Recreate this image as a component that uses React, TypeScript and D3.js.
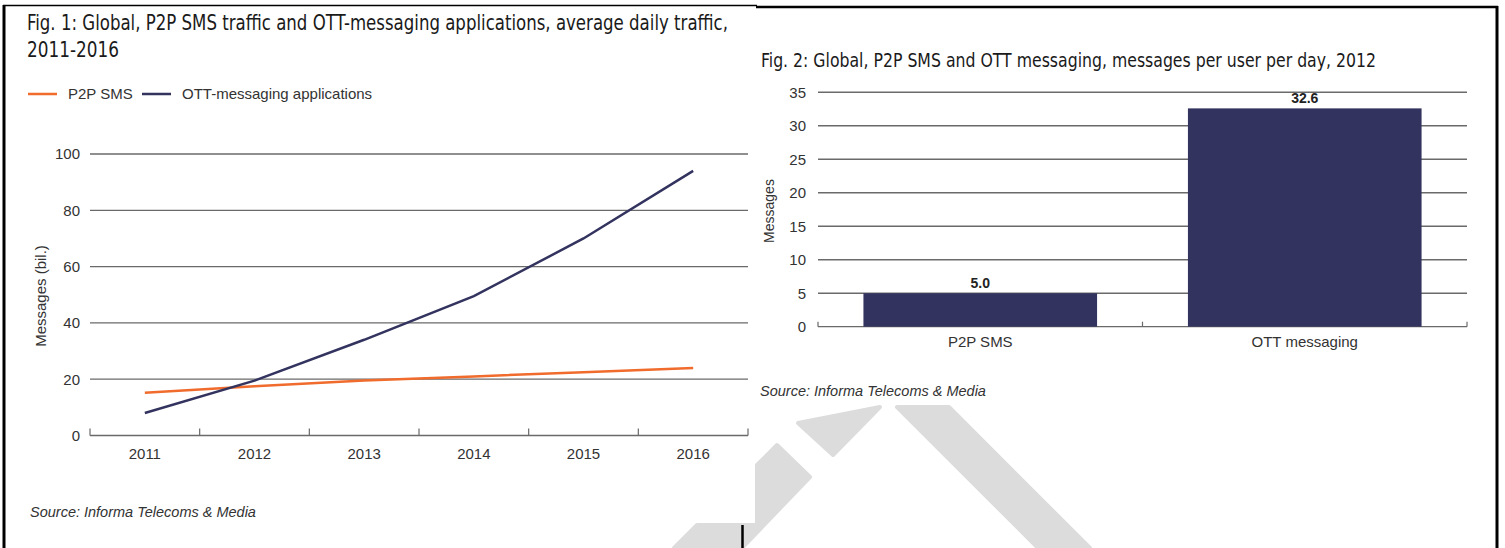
import React, { useRef, useEffect } from 'react';
import * as d3 from 'd3';

// Fig. 1 data
const years = ['2011', '2012', '2013', '2014', '2015', '2016'];
const smsTraffic = [15.2, 17.5, 19.5, 21, 22.5, 24];
const ottTraffic = [8, 19.5, 34, 49.5, 70, 94];
const trafficTicks = [0, 20, 40, 60, 80, 100];
const seriesNames = ['P2P SMS', 'OTT-messaging applications'];

// Fig. 2 data
const userCategories = ['P2P SMS', 'OTT messaging'];
const perUserValues = [5.0, 32.6];
const perUserTicks = [0, 5, 10, 15, 20, 25, 30, 35];

const W = 1505;
const H = 548;
const ORANGE = '#f06b2c';
const NAVY = '#33335f';
const TITLE_FONT = "'Liberation Sans Narrow', 'DejaVu Sans Condensed', 'Noto Sans', sans-serif";
const FONT = "'Liberation Sans', Arial, sans-serif";

function App() {
  const svgRef = useRef(null);

  useEffect(() => {
    const svg = d3.select(svgRef.current);
    svg.selectAll('*').remove();

    svg.append('rect').attr('width', W).attr('height', H).attr('fill', '#fff');

    // faint logo watermark behind the panels
    const wm = [
      [[798, 423], [880, 407], [833, 455]],
      [[777, 445], [810, 477], [742, 548], [674, 548], [697, 525], [757, 525], [757, 465]],
      [[897, 407], [949, 407], [1090, 548], [1038, 548]],
    ];
    svg.append('g').selectAll('polygon').data(wm).enter().append('polygon')
      .attr('points', d => d.map(p => p.join(',')).join(' '))
      .attr('fill', '#dcdcdc')
      .attr('stroke', '#dcdcdc')
      .attr('stroke-width', 4)
      .attr('stroke-linejoin', 'round');

    // frame
    const frame = svg.append('g').attr('stroke', '#000');
    frame.append('line').attr('x1', 4).attr('x2', 4).attr('y1', 5).attr('y2', H).attr('stroke-width', 3);
    frame.append('line').attr('x1', 3).attr('x2', 757).attr('y1', 5.5).attr('y2', 5.5).attr('stroke-width', 1.5);
    frame.append('line').attr('x1', 756).attr('x2', 1498).attr('y1', 7).attr('y2', 7).attr('stroke-width', 2.5);
    frame.append('line').attr('x1', 1497).attr('x2', 1497).attr('y1', 6).attr('y2', H).attr('stroke-width', 3);
    frame.append('line').attr('x1', 742.5).attr('x2', 742.5).attr('y1', 525).attr('y2', H).attr('stroke-width', 2.5);

    // ---------- Fig. 1 ----------
    const g1 = svg.append('g');
    g1.append('text').attr('x', 27).attr('y', 30)
      .attr('font-family', TITLE_FONT).attr('font-size', 21).attr('fill', '#1a1a1a')
      .attr('textLength', 701).attr('lengthAdjust', 'spacingAndGlyphs')
      .text('Fig. 1: Global, P2P SMS traffic and OTT-messaging applications, average daily traffic,');
    g1.append('text').attr('x', 27).attr('y', 57)
      .attr('font-family', TITLE_FONT).attr('font-size', 21).attr('fill', '#1a1a1a')
      .attr('textLength', 92).attr('lengthAdjust', 'spacingAndGlyphs')
      .text('2011-2016');

    const legend = g1.append('g').attr('font-family', FONT).attr('font-size', 15).attr('fill', '#333');
    const legendX = [28, 142];
    seriesNames.forEach((name, i) => {
      legend.append('line')
        .attr('x1', legendX[i]).attr('x2', legendX[i] + 29)
        .attr('y1', 94).attr('y2', 94)
        .attr('stroke', i === 0 ? ORANGE : NAVY).attr('stroke-width', 2.5);
      legend.append('text').attr('x', legendX[i] + 40).attr('y', 99).text(name);
    });

    const x = d3.scaleBand().domain(years).range([90, 748]).padding(0);
    const y = d3.scaleLinear().domain([0, 100]).range([435.5, 154]);

    g1.append('g').selectAll('line').data(trafficTicks.slice(1)).enter().append('line')
      .attr('x1', 90).attr('x2', 748)
      .attr('y1', d => y(d)).attr('y2', d => y(d))
      .attr('stroke', '#6a6a6a').attr('stroke-width', 1.3);

    // x axis: baseline + boundary ticks pointing up
    g1.append('line').attr('x1', 90).attr('x2', 748).attr('y1', y(0)).attr('y2', y(0))
      .attr('stroke', '#6a6a6a').attr('stroke-width', 1.3);
    g1.append('g').selectAll('line').data(d3.range(years.length + 1)).enter().append('line')
      .attr('x1', i => x.range()[0] + i * x.step()).attr('x2', i => x.range()[0] + i * x.step())
      .attr('y1', y(0)).attr('y2', y(0) - 7)
      .attr('stroke', '#6a6a6a').attr('stroke-width', 1.2);

    const xAxis = g1.append('g').attr('transform', `translate(0,${y(0)})`)
      .call(d3.axisBottom(x).tickSize(0).tickPadding(13));
    xAxis.select('.domain').remove();
    xAxis.selectAll('text').attr('font-family', FONT).attr('font-size', 15).attr('fill', '#333');

    const yAxis = g1.append('g').attr('transform', 'translate(90,0)')
      .call(d3.axisLeft(y).tickValues(trafficTicks).tickSize(0).tickPadding(10));
    yAxis.select('.domain').remove();
    yAxis.selectAll('text').attr('font-family', FONT).attr('font-size', 15).attr('fill', '#333');

    g1.append('text')
      .attr('transform', 'translate(46,296) rotate(-90)')
      .attr('text-anchor', 'middle')
      .attr('font-family', FONT).attr('font-size', 15).attr('fill', '#333')
      .text('Messages (bil.)');

    const line = d3.line()
      .x((d, i) => x(years[i]) + x.bandwidth() / 2)
      .y(d => y(d));

    g1.append('path').datum(smsTraffic)
      .attr('fill', 'none').attr('stroke', ORANGE).attr('stroke-width', 2.5).attr('d', line);
    g1.append('path').datum(ottTraffic)
      .attr('fill', 'none').attr('stroke', NAVY).attr('stroke-width', 2.5).attr('d', line);

    g1.append('text').attr('x', 30).attr('y', 517)
      .attr('font-family', FONT).attr('font-size', 14.5).attr('font-style', 'italic').attr('fill', '#333')
      .text('Source: Informa Telecoms & Media');

    // ---------- Fig. 2 ----------
    const g2 = svg.append('g');
    g2.append('text').attr('x', 761).attr('y', 67)
      .attr('font-family', TITLE_FONT).attr('font-size', 19).attr('fill', '#1a1a1a')
      .attr('textLength', 615).attr('lengthAdjust', 'spacingAndGlyphs')
      .text('Fig. 2: Global, P2P SMS and OTT messaging, messages per user per day, 2012');

    const x2 = d3.scaleBand().domain(userCategories).range([818, 1467])
      .paddingInner(0.28).paddingOuter(0.14);
    const y2 = d3.scaleLinear().domain([0, 35]).range([326.7, 92.3]);

    g2.append('g').selectAll('line').data(perUserTicks.slice(1)).enter().append('line')
      .attr('x1', 818).attr('x2', 1467)
      .attr('y1', d => y2(d)).attr('y2', d => y2(d))
      .attr('stroke', '#6a6a6a').attr('stroke-width', 1.6);

    g2.append('line').attr('x1', 818).attr('x2', 1467).attr('y1', y2(0)).attr('y2', y2(0))
      .attr('stroke', '#6a6a6a').attr('stroke-width', 1.3);
    g2.append('g').selectAll('line').data(d3.range(userCategories.length + 1)).enter().append('line')
      .attr('x1', i => 818 + i * (1467 - 818) / userCategories.length)
      .attr('x2', i => 818 + i * (1467 - 818) / userCategories.length)
      .attr('y1', y2(0)).attr('y2', y2(0) - 5)
      .attr('stroke', '#6a6a6a').attr('stroke-width', 1.2);

    g2.append('g').selectAll('rect').data(perUserValues).enter().append('rect')
      .attr('x', (d, i) => x2(userCategories[i]))
      .attr('width', x2.bandwidth())
      .attr('y', d => y2(d))
      .attr('height', d => y2(0) - y2(d))
      .attr('fill', NAVY);

    g2.append('g').selectAll('text').data(perUserValues).enter().append('text')
      .attr('x', (d, i) => x2(userCategories[i]) + x2.bandwidth() / 2)
      .attr('y', d => y2(d) - 5)
      .attr('text-anchor', 'middle')
      .attr('font-family', FONT).attr('font-size', 14).attr('font-weight', 'bold').attr('fill', '#222')
      .text(d => d.toFixed(1));

    const xAxis2 = g2.append('g').attr('transform', `translate(0,${y2(0)})`)
      .call(d3.axisBottom(x2).tickSize(0).tickPadding(10));
    xAxis2.select('.domain').remove();
    xAxis2.selectAll('text').attr('font-family', FONT).attr('font-size', 15).attr('fill', '#333');

    const yAxis2 = g2.append('g').attr('transform', 'translate(818,0)')
      .call(d3.axisLeft(y2).tickValues(perUserTicks).tickSize(0).tickPadding(12));
    yAxis2.select('.domain').remove();
    yAxis2.selectAll('text').attr('font-family', FONT).attr('font-size', 15).attr('fill', '#333');

    g2.append('text')
      .attr('transform', 'translate(774,211) rotate(-90)')
      .attr('text-anchor', 'middle')
      .attr('font-family', FONT).attr('font-size', 14).attr('fill', '#333')
      .text('Messages');

    g2.append('text').attr('x', 760).attr('y', 396)
      .attr('font-family', FONT).attr('font-size', 14.5).attr('font-style', 'italic').attr('fill', '#333')
      .text('Source: Informa Telecoms & Media');
  }, []);

  return (
    <svg ref={svgRef} width={W} height={H} viewBox={`0 0 ${W} ${H}`}
      style={{ position: 'absolute', left: 0, top: 0, display: 'block' }} />
  );
}

export default App;
